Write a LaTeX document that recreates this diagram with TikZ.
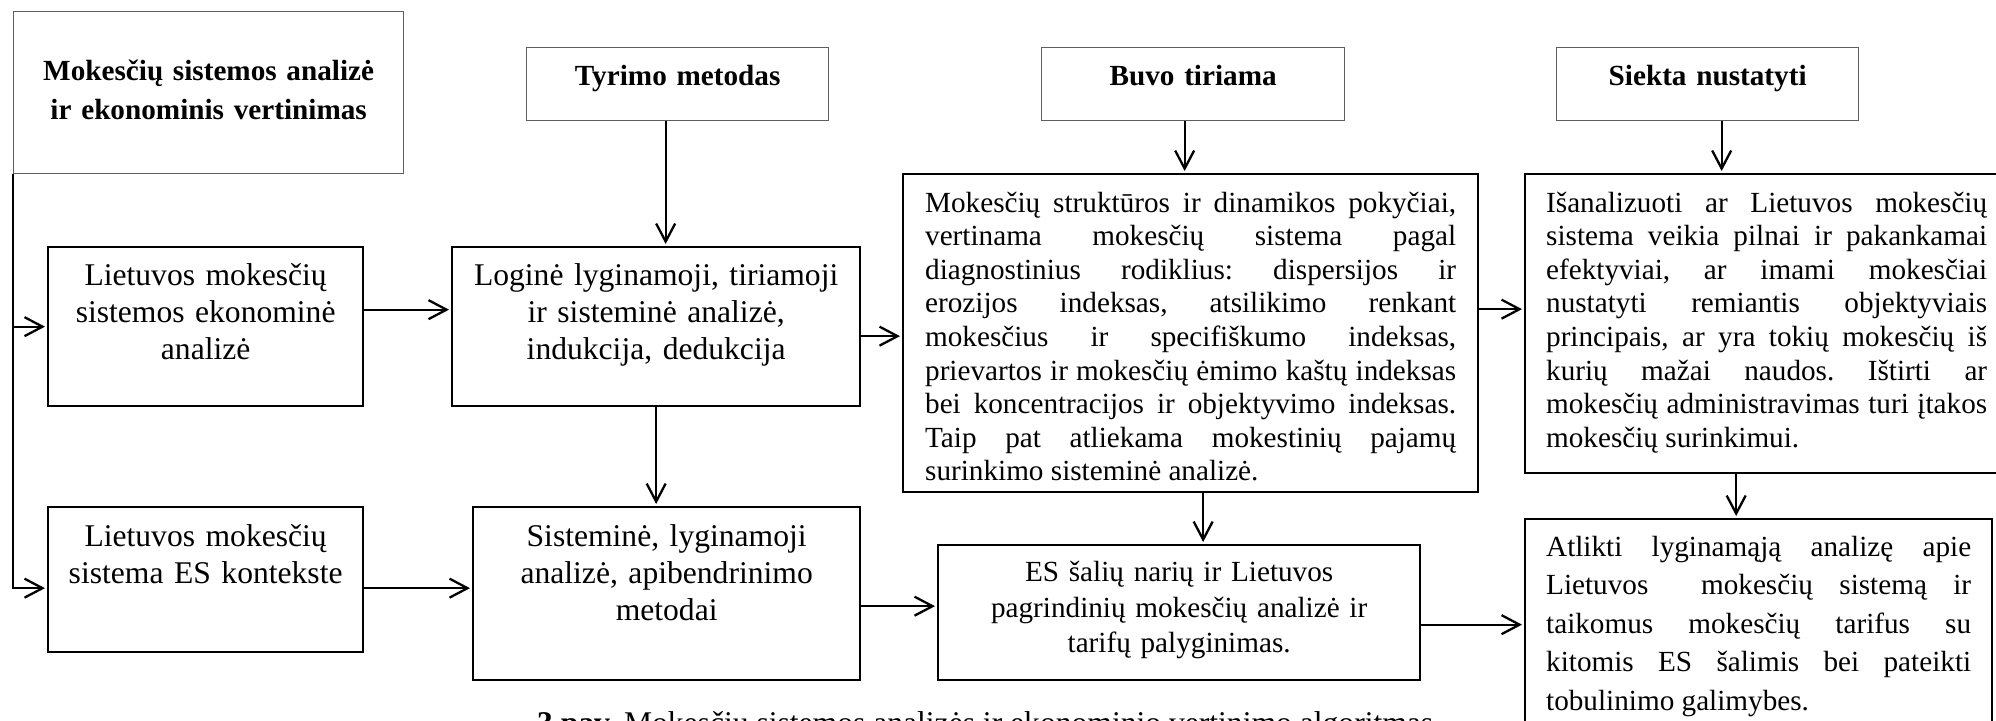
\documentclass[tikz,border=0pt]{standalone}
\usepackage{fontspec}
\setmainfont{Liberation Serif}
\frenchspacing
\usetikzlibrary{arrows.meta,positioning,calc}
\definecolor{Frame}{HTML}{5E5E5E}
\tikzset{
  headbox/.style={draw=Frame,line width=.65pt,inner xsep=5pt,inner ysep=0pt,align=center,anchor=north west,font=\fontsize{14.6}{19.5}\selectfont\bfseries},
  stepbox/.style={draw=black,line width=1.15pt,inner xsep=5pt,inner ysep=0pt,align=center,anchor=north west,font=\fontsize{15.8}{18.5}\selectfont},
  textbox/.style={draw=black,line width=1.15pt,inner xsep=10.5pt,inner ysep=0pt,align=justify,anchor=north west,font=\fontsize{14.6}{16.8}\selectfont},
  flow/.style={-{Straight Barb[length=9pt,width=9.5pt]},draw=black,line width=1.15pt,shorten >=1pt},
  trunk/.style={draw=black,line width=1.15pt}
}

\begin{document}
\begin{tikzpicture}[x=0.5pt,y=-0.5pt]
  \useasboundingbox (0,0) rectangle (1996,720);
  \node[headbox,text width=185pt,text height=34.5pt,text depth=46.5pt] (main) at (13,11) {Mokesčių sistemos analizė\\ir ekonominis vertinimas};
  \node[headbox,text width=141pt,text height=19pt,text depth=17.5pt] (method) at (526,47) {Tyrimo metodas};
  \node[headbox,text width=141.5pt,text height=19pt,text depth=17.5pt] (studied) at (1041,47) {Buvo tiriama};
  \node[headbox,text width=141pt,text height=19pt,text depth=17.5pt] (goal) at (1556,47) {Siekta nustatyti};
  \node[stepbox,text width=147.5pt,text height=19.25pt,text depth=60.25pt] (ltecon) at (47,246) {Lietuvos mokesčių\\sistemos ekonominė\\analizė};
  \node[stepbox,text width=147.5pt,text height=19.75pt,text depth=52.75pt] (ltes) at (47,506) {Lietuvos mokesčių\\sistema ES kontekste};
  \node[stepbox,text width=194pt,text height=19.25pt,text depth=60.25pt] (logic) at (451,246) {Loginė lyginamoji, tiriamoji\\ir sisteminė analizė,\\indukcija, dedukcija};
  \node[stepbox,text width=183.5pt,text height=19.75pt,text depth=66.75pt] (system) at (472,506) {Sisteminė, lyginamoji\\analizė, apibendrinimo\\metodai};
  \node[textbox,inner xsep=11pt,text width=265.5pt,text height=19pt,text depth=140pt] (indices) at (902,173) {Mokesčių struktūros ir dinamikos pokyčiai, \linebreak vertinama mokesčių sistema pagal \linebreak diagnostinius rodiklius: dispersijos ir \linebreak erozijos indeksas, atsilikimo renkant \linebreak mokesčius ir specifiškumo indeksas, \linebreak prievartos ir mokesčių ėmimo kaštų indeksas \linebreak bei koncentracijos ir objektyvimo indeksas. \linebreak Taip pat atliekama mokestinių pajamų \linebreak surinkimo sisteminė analizė.};
  \node[stepbox,font=\fontsize{14.6}{17.85}\selectfont,text width=231pt,text height=18.2pt,text depth=49.3pt] (rates) at (937,544) {ES šalių narių ir Lietuvos\\pagrindinių mokesčių analizė ir\\tarifų palyginimas.};
  \node[textbox,text width=220.5pt,text height=19pt,text depth=130.5pt] (aim) at (1524,173) {Išanalizuoti ar Lietuvos mokesčių \linebreak sistema veikia pilnai ir pakankamai \linebreak efektyviai, ar imami mokesčiai \linebreak nustatyti remiantis objektyviais \linebreak principais, ar yra tokių mokesčių iš \linebreak kurių mažai naudos. Ištirti ar \linebreak mokesčių administravimas turi įtakos \linebreak mokesčių surinkimui.};
  \node[textbox,font=\fontsize{14.6}{19.3}\selectfont,text width=212.5pt,text height=18.5pt,text depth=92.5pt] (compare) at (1524,518) {Atlikti lyginamąją analizę apie \linebreak Lietuvos\ \ mokesčių sistemą ir \linebreak taikomus mokesčių tarifus su \linebreak kitomis ES šalimis bei pateikti \linebreak tobulinimo galimybes.};
  \node[anchor=base west,font=\fontsize{15.8}{19}\selectfont] (caption) at (530,733) {\textbf{3 pav.} Mokesčių sistemos analizės ir ekonominio vertinimo algoritmas};
  \draw[flow] (main.south west |- ltecon.west) -- (ltecon.west);
  \draw[flow] (main.south west) |- ([yshift=-4.25pt]ltes.west);
  \draw[flow] ([yshift=8.5pt]ltecon.east) -- ([yshift=8.5pt]ltecon.east -| logic.west);
  \draw[flow] ([yshift=-4.25pt]ltes.east) -- ([yshift=-4.25pt]ltes.east -| system.west);
  \draw[flow] ([xshift=-6pt]method.south) -- ([xshift=-6pt]method.south |- logic.north);
  \draw[flow] (logic.south) -- (logic.south |- system.north);
  \draw[flow] ([yshift=-4.75pt]logic.east) -- ([yshift=-4.75pt]logic.east -| indices.west);
  \draw[flow] ([yshift=-6.25pt]system.east) -- ([yshift=-6.25pt]system.east -| rates.west);
  \draw[flow] ([xshift=-4.25pt]studied.south) -- ([xshift=-4.25pt]studied.south |- indices.north);
  \draw[flow] ([xshift=6.25pt]indices.south) -- ([xshift=6.25pt]indices.south |- rates.north);
  \draw[flow] ([yshift=12pt]indices.east) -- ([yshift=12pt]indices.east -| aim.west);
  \draw[flow] ([yshift=-6pt]rates.east) -- ([yshift=-6pt]rates.east -| compare.west);
  \draw[flow] ([xshift=7pt]goal.south) -- ([xshift=7pt]goal.south |- aim.north);
  \draw[flow] ([xshift=-15.25pt]aim.south) -- ([xshift=-15.25pt]aim.south |- compare.north);
\end{tikzpicture}
\end{document}
